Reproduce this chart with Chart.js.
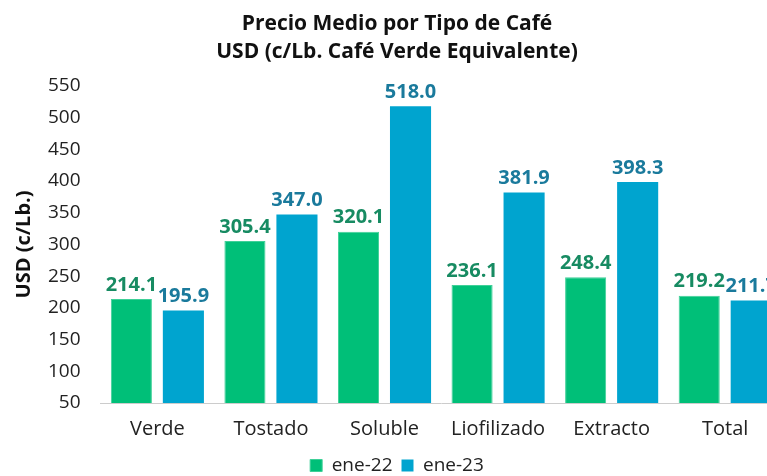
<!DOCTYPE html>
<html>
<head>
<meta charset="utf-8">
<script src="https://cdn.jsdelivr.net/npm/chart.js@4"></script>
<style>
  html, body { margin: 0; padding: 0; background: #fff; overflow: hidden; }
  #wrap { width: 782px; height: 485px; position: relative; }
</style>
</head>
<body>
<div id="wrap"><canvas id="grafico"></canvas></div>
<script>
// datos del gráfico
const categorias = ['Verde', 'Tostado', 'Soluble', 'Liofilizado', 'Extracto', 'Total'];
const ene22 = [214.1, 305.4, 320.1, 236.1, 248.4, 219.2];
const ene23 = [195.9, 347.0, 518.0, 381.9, 398.3, 211.7];
const ticksY = [50, 100, 150, 200, 250, 300, 350, 400, 450, 500, 550];

const fuente = "'Open Sans', 'DejaVu Sans', sans-serif";

// etiquetas de valor encima de cada barra
const etiquetasValor = {
  id: 'etiquetasValor',
  afterDatasetsDraw(chart) {
    const ctx = chart.ctx;
    ctx.save();
    ctx.font = 'bold 20px ' + fuente;
    ctx.textAlign = 'center';
    ctx.textBaseline = 'bottom';
    chart.data.datasets.forEach((ds, i) => {
      const meta = chart.getDatasetMeta(i);
      ctx.fillStyle = ds.colorEtiqueta;
      meta.data.forEach((bar, j) => {
        ctx.fillText(ds.data[j].toFixed(1), bar.x, bar.y - 4);
      });
    });
    ctx.restore();
  }
};

new Chart(document.getElementById('grafico'), {
  type: 'bar',
  data: {
    labels: categorias,
    datasets: [
      {
        label: 'ene-22',
        data: ene22,
        backgroundColor: '#00bf78',
        borderColor: '#3fd098',
        borderWidth: 1,
        colorEtiqueta: '#178b62'
      },
      {
        label: 'ene-23',
        data: ene23,
        backgroundColor: '#00a4cf',
        borderColor: '#00a4cf',
        borderWidth: 0,
        colorEtiqueta: '#1a7a9c'
      }
    ]
  },
  options: {
    responsive: true,
    maintainAspectRatio: false,
    animation: false,
    layout: { padding: { top: 10, bottom: 0, left: 12, right: 0 } },
    datasets: {
      bar: { categoryPercentage: 0.916, barPercentage: 0.79 }
    },
    plugins: {
      title: {
        display: true,
        text: ['Precio Medio por Tipo de Café', 'USD (c/Lb. Café Verde Equivalente)'],
        color: '#111',
        font: { family: fuente, size: 21, weight: 'bold', lineHeight: 1.33 },
        padding: { top: 0, bottom: 20 }
      },
      legend: {
        position: 'bottom',
        labels: {
          color: '#222',
          font: { family: fuente, size: 19 },
          boxWidth: 12,
          boxHeight: 12,
          padding: 9
        }
      },
      tooltip: { enabled: false }
    },
    scales: {
      x: {
        grid: { display: false },
        border: { color: '#cccccc' },
        ticks: { color: '#222', font: { family: fuente, size: 20 }, padding: 6 }
      },
      y: {
        min: 50,
        max: 550,
        afterBuildTicks(axis) {
          axis.ticks = ticksY.map(v => ({ value: v }));
        },
        grid: { display: false },
        border: { display: false },
        ticks: { color: '#222', font: { family: fuente, size: 19 }, padding: 12 },
        title: {
          display: true,
          text: 'USD (c/Lb.)',
          color: '#111',
          font: { family: fuente, size: 20, weight: 'bold' },
          padding: 0
        }
      }
    }
  },
  plugins: [etiquetasValor]
});
</script>
</body>
</html>
